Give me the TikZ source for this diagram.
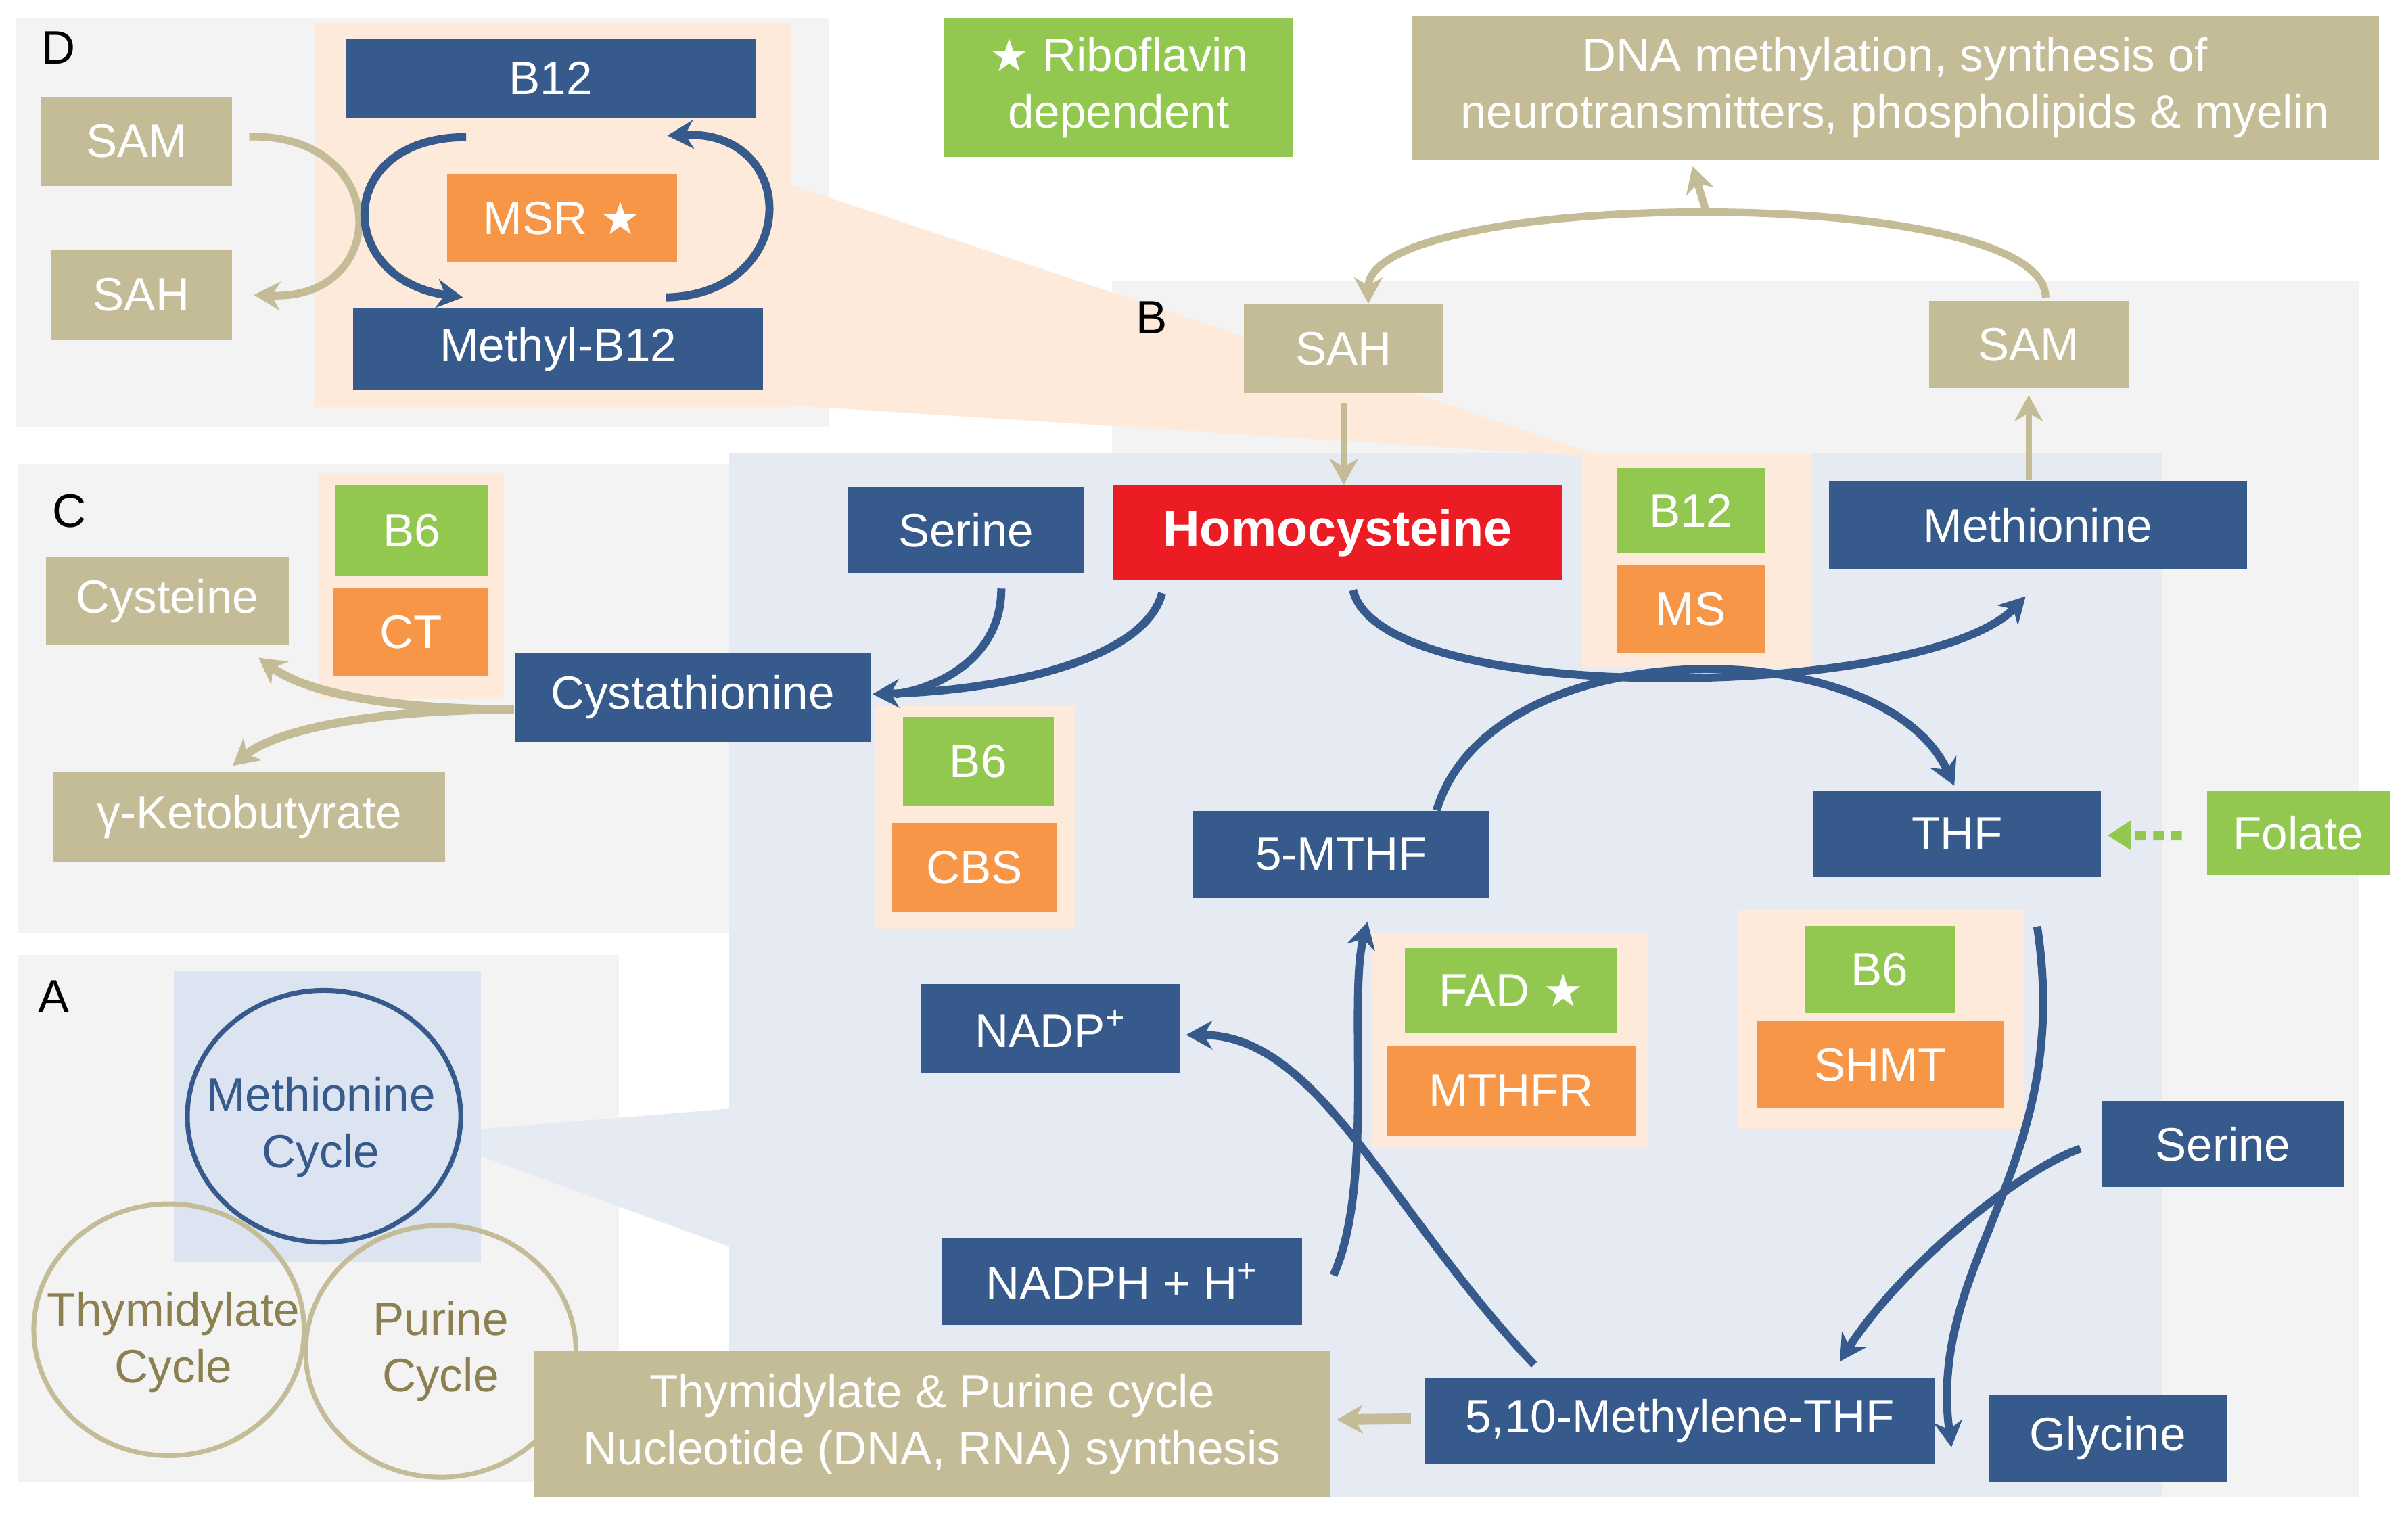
\documentclass[tikz,border=0pt]{standalone}
\usepackage{fontspec}
\setmainfont{Liberation Sans}
\newfontfamily\symfont{DejaVu Sans}
\usetikzlibrary{arrows.meta}
\definecolor{boxblue}{RGB}{55,90,140}
\definecolor{boxtan}{RGB}{196,188,150}
\definecolor{boxgreen}{RGB}{146,200,80}
\definecolor{boxorange}{RGB}{247,150,70}
\definecolor{boxred}{RGB}{236,28,36}
\definecolor{bgpeach}{RGB}{253,234,218}
\definecolor{bggray}{RGB}{243,243,243}
\definecolor{bgblue}{RGB}{230,235,243}
\definecolor{sqblue}{RGB}{219,228,240}
\definecolor{cycolive}{RGB}{140,128,80}
\newlength\unitpx
\setlength\unitpx{0.022704cm}
\newcommand\rstar{{\symfont\fontsize{19}{19}\selectfont ★}}
\begin{document}
\begin{tikzpicture}[x=0.022704cm, y=-0.022704cm,
        box/.style={rectangle, inner sep=0pt, text=white, align=center, font=\fontsize{19.7}{23.8}\selectfont},
        sz/.style 2 args={minimum width=#1*\unitpx, minimum height=#2*\unitpx},
        bluebox/.style={box, fill=boxblue},
        tanbox/.style={box, fill=boxtan},
        greenbox/.style={box, fill=boxgreen},
        orangebox/.style={box, fill=boxorange},
        lbl/.style={font=\fontsize{19.7}{23.8}\selectfont, text=black},
        cyctext/.style={align=center, inner sep=0pt, font=\fontsize{19.7}{23.8}\selectfont},
        blueline/.style={draw=boxblue, line width=3.4pt},
        bluearr/.style={blueline, -{Stealth[length=11pt, width=12pt, inset=3.5pt]}},
        tanarr/.style={draw=boxtan, line width=3.2pt, -{Stealth[length=11pt, width=12pt, inset=3.5pt]}}]
    \useasboundingbox (0,0) rectangle (1568,989);
    \fill[white] (0,0) rectangle (1568,989);
    % panels
    \foreach \xa/\ya/\xb/\yb in {10/12/540/278, 12/302/715/608, 12/622/403/965, 724/183/1536/975}
        {
            \fill[bggray] (\xa,\ya) rectangle (\xb,\yb);
        }
    \fill[bgblue] (475,295) rectangle (1408,975);
    \fill[bgblue] (305,736) -- (475,722) -- (475,812) -- (305,750) -- cycle;
    \fill[sqblue] (113,632) rectangle (313,822);
    \fill[bgpeach] (505,117) -- (1045,298) -- (515,264) -- cycle;
    \foreach \xa/\ya/\xb/\yb in {205/15/515/265, 1030/295/1180/435, 570/460/700/605,
            208/308/328/455, 893/608/1073/748, 1132/593/1318/735}
        {
            \fill[bgpeach] (\xa,\ya) rectangle (\xb,\yb);
        }
    % panel labels
    \node[lbl] (lblD) at (38,31) {D};
    \node[lbl] (lblC) at (45,333) {C};
    \node[lbl] (lblB) at (750,207) {B};
    \node[lbl] (lblA) at (35,649) {A};
    % A: cycles
    \draw[boxtan, line width=2pt] (110,866) ellipse [x radius=88, y radius=82];
    \draw[boxtan, line width=2pt] (287,880) ellipse [x radius=88, y radius=82];
    \draw[boxblue, line width=2pt] (211,727) ellipse [x radius=89, y radius=82];
    \node[cyctext, text=boxblue] (metcyc) at (209,734) {Methionine\\Cycle};
    \node[cyctext, text=cycolive] (thycyc) at (113,874) {Thymidylate\\Cycle};
    \node[cyctext, text=cycolive] (purcyc) at (287,880) {Purine\\Cycle};
    % D
    \node[bluebox, sz={267}{52}] (b12top) at (358.5,51) {B12};
    \node[tanbox, sz={124}{58}] (samD) at (89,92) {SAM};
    \node[tanbox, sz={118}{58}] (sahD) at (92,192) {SAH};
    \node[orangebox, sz={150}{58}] (msr) at (366,142) {MSR \rstar};
    \node[bluebox, sz={267}{53}] (methylb12) at (363.5,227.5) {Methyl-B12};
    % top
    \node[greenbox, sz={227}{90}] (ribo) at (728.5,57) {\rstar\ Riboflavin\\dependent};
    \node[tanbox, sz={630}{94}] (dna) at (1234,57) {DNA methylation, synthesis of\\neurotransmitters, phospholipids \& myelin};
    % B
    \node[tanbox, sz={130}{58}] (sah) at (875,227) {SAH};
    \node[tanbox, sz={130}{57}] (sam) at (1321,224.5) {SAM};
    \node[box, fill=boxred, sz={292}{62}, font=\bfseries\fontsize{21.5}{25}\selectfont] (hcy) at (871,347) {Homocysteine};
    \node[greenbox, sz={96}{55}] (b12ms) at (1101,332.5) {B12};
    \node[orangebox, sz={96}{57}] (ms) at (1101,396.5) {MS};
    \node[bluebox, sz={272}{58}] (met) at (1327,342) {Methionine};
    \node[bluebox, sz={154}{56}] (ser1) at (629,345) {Serine};
    \node[bluebox, sz={232}{58}] (cysta) at (451,454) {Cystathionine};
    \node[greenbox, sz={98}{58}] (b6cbs) at (637,496) {B6};
    \node[orangebox, sz={107}{58}] (cbs) at (634.5,565) {CBS};
    \node[bluebox, sz={193}{57}] (mthf5) at (873.5,556.5) {5-MTHF};
    \node[bluebox, sz={187}{56}] (thf) at (1274.5,543) {THF};
    \node[greenbox, sz={119}{55}] (folate) at (1496.5,542.5) {Folate};
    \node[greenbox, sz={138}{56}] (fad) at (984,645) {FAD \rstar};
    \node[orangebox, sz={162}{59}] (mthfr) at (984,710.5) {MTHFR};
    \node[greenbox, sz={98}{57}] (b6shmt) at (1224,631.5) {B6};
    \node[orangebox, sz={161}{57}] (shmt) at (1224.5,693.5) {SHMT};
    \node[bluebox, sz={168}{58}] (nadp) at (684,670) {NADP\textsuperscript{+}};
    \node[bluebox, sz={235}{57}] (nadph) at (730.5,834.5) {NADPH + H\textsuperscript{+}};
    \node[bluebox, sz={157}{56}] (ser2) at (1447.5,745) {Serine};
    \node[bluebox, sz={332}{56}] (mthf510) at (1094,925) {5,10-Methylene-THF};
    \node[bluebox, sz={155}{57}] (gly) at (1372.5,936.5) {Glycine};
    \node[tanbox, sz={518}{95}] (nucl) at (607,927.5) {Thymidylate \& Purine cycle\\Nucleotide (DNA, RNA) synthesis};
    % C
    \node[greenbox, sz={100}{59}] (b6ct) at (268,345.5) {B6};
    \node[orangebox, sz={101}{57}] (ct) at (267.5,411.5) {CT};
    \node[tanbox, sz={158}{57}] (cys) at (109,391.5) {Cysteine};
    \node[tanbox, sz={255}{58}] (ketob) at (162.5,532) {γ-Ketobutyrate};
    % D arrows
    \draw[tanarr] ([shift={(11,-3)}]samD.east) .. controls +(93,-2) and +(90,4) .. ([shift={(14,0)}]sahD.east);
    \draw[bluearr] ([shift={(-55,12)}]b12top.south) .. controls +(-86,0) and +(-84,-12) .. ([shift={(-62,-7)}]methylb12.north);
    \draw[bluearr] ([shift={(70,-7)}]methylb12.north) .. controls +(88,-2) and +(87,-4) .. ([shift={(76,11)}]b12top.south);
    % SAM / SAH
    \draw[tanarr] ([shift={(11,-2)}]sam.north) .. controls +(0,-75) and +(0,-75) .. ([shift={(16,0)}]sah.north) coordinate[pos=0.5] (arctop);
    \draw[tanarr] (arctop) -- ([shift={(-132,4)}]dna.south);
    \draw[tanarr, line width=2.6pt] ([yshift=-4pt]sah.south) -- (sah.south |- hcy.north);
    \draw[tanarr, line width=2.6pt] (sam.south |- met.north) -- ([yshift=-2.6pt]sam.south);
    % transsulfuration
    \draw[blueline] ([shift={(23,10)}]ser1.south) .. controls +(0,45) and +(28,-4) .. ([shift={(16,-2)}]cysta.east);
    \draw[bluearr] ([shift={(32,8)}]hcy.south west) .. controls +(-12,45) and +(80,-2) .. ([shift={(1,-2)}]cysta.east);
    \draw[tanarr, line width=3.6pt] ([shift={(0,8)}]cysta.west) .. controls +(-85,0) and +(30,22) .. ([shift={(-20,8)}]cys.south east);
    \draw[tanarr, line width=3.6pt] ([shift={(0,8)}]cysta.west) .. controls +(-85,0) and +(30,-25) .. ([shift={(-11,-4)}]ketob.north);
    % methionine / folate cycle
    \draw[bluearr] ([shift={(10,6)}]hcy.south) .. controls +(19,78) and +(-64,67) .. ([shift={(-8,17)}]met.south);
    \draw[bluearr] ([shift={(62,0)}]mthf5.north) .. controls +(35,-118) and +(-47,-102) .. ([shift={(-2,-3)}]thf.north);
    \draw[bluearr] ([shift={(20,-4)}]nadph.east) .. controls +(27,-60) and +(-13,50) .. ([shift={(17,15)}]mthf5.south);
    \draw[bluearr] ([shift={(-95,-8)}]mthf510.north) .. controls +(-94,-99) and +(87,0) .. ([shift={(4,4)}]nadp.east);
    \draw[bluearr] ([shift={(52,32)}]thf.south) .. controls +(24,157) and +(-16,-122) .. ([shift={(-24,6)}]gly.west);
    \draw[bluearr] ([shift={(-14,3)}]ser2.west) .. controls +(-40,14) and +(40,-62) .. ([shift={(104,-10)}]mthf510.north);
    \draw[tanarr, line width=4.5pt] ([shift={(-9,-1)}]mthf510.west) -- ([shift={(4,-3)}]nucl.east);
    \draw[draw=boxgreen, line width=4pt, dash pattern=on 4.5pt off 3pt, -{Triangle[length=10pt, width=12pt]}] ([shift={(-16,1.5)}]folate.west) -- ([shift={(4,1)}]thf.east);
\end{tikzpicture}
\end{document}
